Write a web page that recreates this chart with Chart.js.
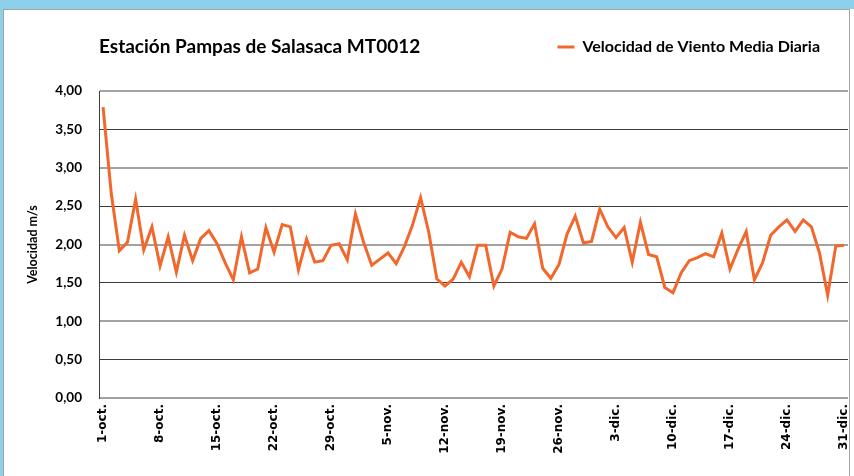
<!DOCTYPE html>
<html lang="es">
<head>
<meta charset="utf-8">
<title>Velocidad de Viento - Pampas de Salasaca</title>
<script src="https://cdn.jsdelivr.net/npm/chart.js@4.4.1/dist/chart.umd.min.js"></script>
<style>
  html, body { margin: 0; padding: 0; width: 854px; height: 476px; overflow: hidden; background: #fff; }
  .barra-sup { position: absolute; left: 0; top: 0; width: 854px; height: 9px; background: #8dd0ec; }
  .barra-izq { position: absolute; left: 0; top: 0; width: 3px; height: 476px; background: #8dd0ec; }
  .marco { position: absolute; left: 3px; top: 9px; width: 847px; height: 467px; box-sizing: border-box;
           border: 1px solid #a3a3a3; border-bottom: none; background: #fff; }
  canvas { display: block; }
</style>
</head>
<body>
<div class="barra-sup"></div>
<div class="barra-izq"></div>
<div class="marco">
  <canvas id="grafico-viento" width="845" height="466"></canvas>
</div>
<script>
// Fechas diarias del 1-oct al 31-dic
const meses = ['oct.', 'nov.', 'dic.'];
const diasPorMes = [31, 30, 31];
const fechas = [];
meses.forEach(function(mes, k) {
    for (let d = 1; d <= diasPorMes[k]; d++) {
        fechas.push(d + '-' + mes);
    }
});

// Velocidad de viento media diaria (m/s)
const velOct = [3.79, 2.67, 1.92, 2.03, 2.59, 1.93, 2.23, 1.72, 2.10, 1.64,
                2.12, 1.79, 2.08, 2.18, 2.01, 1.76, 1.54, 2.10, 1.63, 1.68,
                2.22, 1.90, 2.26, 2.23, 1.67, 2.07, 1.77, 1.79, 1.99, 2.01, 1.80];
const velNov = [2.40, 2.03, 1.73, 1.81, 1.89, 1.75, 1.97, 2.25, 2.61, 2.16,
                1.55, 1.46, 1.55, 1.77, 1.58, 1.99, 1.99, 1.46, 1.68, 2.16,
                2.10, 2.08, 2.27, 1.69, 1.56, 1.74, 2.14, 2.37, 2.02, 2.04];
const velDic = [2.46, 2.23, 2.09, 2.22, 1.77, 2.29, 1.87, 1.84, 1.44, 1.37,
                1.63, 1.79, 1.83, 1.88, 1.84, 2.15, 1.68, 1.94, 2.17, 1.54,
                1.76, 2.12, 2.23, 2.32, 2.17, 2.32, 2.23, 1.89, 1.34, 1.98, 1.99];
const velocidad = velOct.concat(velNov, velDic);

// Etiquetas visibles en el eje X (una por semana)
const etiquetasX = ['1-oct.', '8-oct.', '15-oct.', '22-oct.', '29-oct.', '5-nov.', '12-nov.',
                    '19-nov.', '26-nov.', '3-dic.', '10-dic.', '17-dic.', '24-dic.', '31-dic.'];

const naranja = '#f2672b';
const fuente = 'Lato, "Open Sans", sans-serif';

const ctx = document.getElementById('grafico-viento').getContext('2d');

new Chart(ctx, {
    type: 'line',
    data: {
        labels: fechas,
        datasets: [{
            label: 'Velocidad de Viento Media Diaria',
            data: velocidad,
            borderColor: naranja,
            backgroundColor: naranja,
            borderWidth: 3,
            pointRadius: 0,
            tension: 0,
            fill: false
        }]
    },
    options: {
        responsive: false,
        animation: false,
        layout: {
            padding: { top: 1, left: 17, right: 1, bottom: 0 }
        },
        scales: {
            x: {
                offset: true,
                grid: { display: false, drawTicks: false },
                border: { display: false },
                ticks: {
                    autoSkip: false,
                    minRotation: 90,
                    maxRotation: 90,
                    padding: 6,
                    color: '#000',
                    font: { family: '"DejaVu Sans"', size: 12, weight: 'bold' },
                    callback: function(valor, i) {
                        const f = fechas[i];
                        return etiquetasX.includes(f) ? f : '';
                    }
                },
                afterFit: function(escala) {
                    escala.height = 78;
                    // las etiquetas giradas no necesitan margen lateral
                    escala.paddingLeft = 0;
                    escala.paddingRight = 0;
                }
            },
            y: {
                min: 0,
                max: 4,
                grid: {
                    drawTicks: false,
                    color: function(c) { return c.index % 2 === 0 ? '#a2a2a2' : '#3c3c3c'; },
                    lineWidth: function(c) { return c.index % 2 === 0 ? 2 : 1; }
                },
                border: { display: true, color: '#3c3c3c', width: 1 },
                ticks: {
                    stepSize: 0.5,
                    padding: 17,
                    color: '#000',
                    font: { family: fuente, size: 13.5, weight: 'bold' },
                    callback: function(v) { return v.toFixed(2).replace('.', ','); }
                },
                title: {
                    display: true,
                    text: 'Velocidad m/s',
                    color: '#000',
                    font: { family: fuente, size: 12.5, weight: 'bold' }
                },
                afterFit: function(escala) { escala.width = 78; }
            }
        },
        plugins: {
            legend: {
                position: 'top',
                align: 'end',
                fullSize: false,
                labels: {
                    usePointStyle: true,
                    pointStyle: 'line',
                    pointStyleWidth: 17,
                    padding: 28,
                    color: '#000',
                    font: { family: fuente, size: 16, weight: 'bold' }
                }
            },
            // el título comparte la fila de la leyenda
            title: {
                display: true,
                text: 'Estación Pampas de Salasaca MT0012',
                align: 'start',
                fullSize: false,
                weight: 500,
                color: '#000',
                font: { family: fuente, size: 19, weight: 'bold' },
                padding: { top: -29.4, bottom: 32.6 }
            },
            tooltip: { enabled: false }
        }
    }
});
</script>
</body>
</html>
